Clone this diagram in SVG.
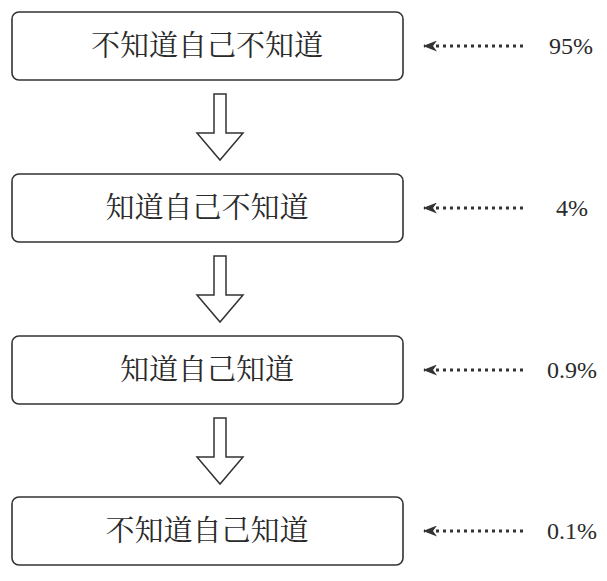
<svg xmlns="http://www.w3.org/2000/svg" width="607" height="581" viewBox="0 0 607 581">
<defs>
<style>
.box{fill:#fff;stroke:#333;stroke-width:1.6}
.lbl{font-family:"Noto Serif CJK SC","Noto Sans CJK SC",serif;font-size:29px;fill:#2a2a2a;text-anchor:middle}
.pct{font-family:"Liberation Serif","DejaVu Serif",serif;font-size:24px;fill:#2a2a2a;text-anchor:middle}
.big{fill:#fff;stroke:#333;stroke-width:1.5;stroke-linejoin:miter}
.dot{stroke:#333;stroke-width:3;stroke-dasharray:3 4;fill:none}
</style>
<marker id="ah" viewBox="0 0 14 11" refX="13" refY="5.5" markerWidth="14" markerHeight="11" markerUnits="userSpaceOnUse" orient="auto">
<path d="M14,5.5 L0,0 L4,5.5 L0,11 Z" fill="#333"/>
</marker>
</defs>
<rect width="607" height="581" fill="#fff"/>
<g id="node1"><rect class="box" x="12" y="12" width="391" height="68" rx="7"/><text class="lbl" x="207" y="56">不知道自己不知道</text></g>
<g id="node2"><rect class="box" x="12" y="174" width="391" height="68" rx="7"/><text class="lbl" x="207" y="218">知道自己不知道</text></g>
<g id="node3"><rect class="box" x="12" y="336" width="391" height="68" rx="7"/><text class="lbl" x="207" y="380">知道自己知道</text></g>
<g id="node4"><rect class="box" x="12" y="497" width="391" height="68" rx="7"/><text class="lbl" x="207" y="541">不知道自己知道</text></g>
<g id="pct1"><text class="pct" x="571" y="54">95%</text></g>
<g id="pct2"><text class="pct" x="572" y="216">4%</text></g>
<g id="pct3"><text class="pct" x="572" y="378">0.9%</text></g>
<g id="pct4"><text class="pct" x="572" y="539">0.1%</text></g>
<g id="connectors">
<path class="big" d="M214,94 H226 V133 H243 L220,160 L197,133 H214 Z"/>
<path class="big" d="M214,256 H226 V295 H243 L220,322 L197,295 H214 Z"/>
<path class="big" d="M214,418 H226 V457 H243 L220,484 L197,457 H214 Z"/>
<line class="dot" x1="523" y1="46" x2="424" y2="46" marker-end="url(#ah)"/>
<line class="dot" x1="523" y1="208" x2="424" y2="208" marker-end="url(#ah)"/>
<line class="dot" x1="523" y1="370" x2="424" y2="370" marker-end="url(#ah)"/>
<line class="dot" x1="523" y1="531" x2="424" y2="531" marker-end="url(#ah)"/>
</g>
</svg>
